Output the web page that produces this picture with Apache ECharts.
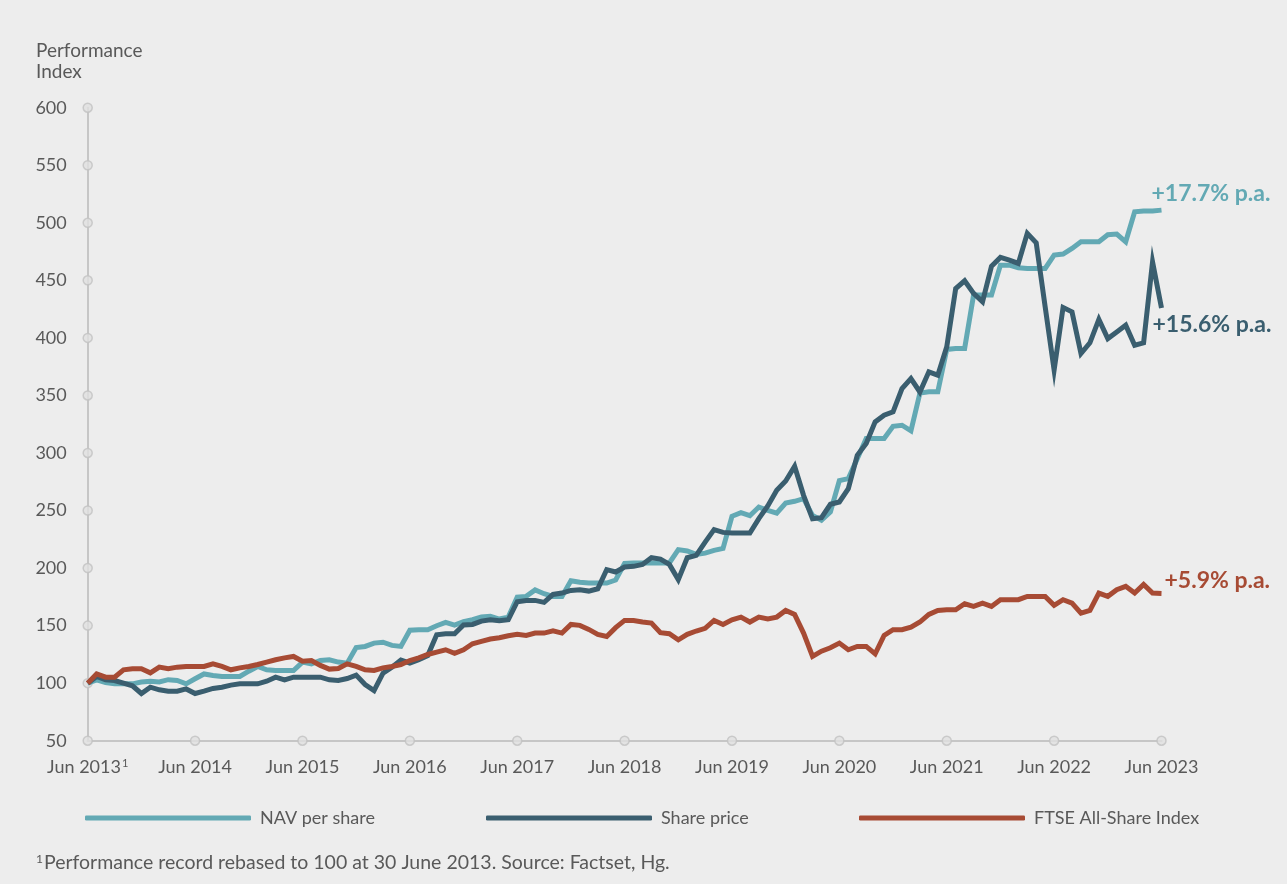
<!DOCTYPE html>
<html>
<head>
<meta charset="utf-8">
<title>Performance Index</title>
<script src="https://cdn.jsdelivr.net/npm/echarts@6/dist/echarts.min.js"></script>
<style>
  html, body { margin: 0; padding: 0; background: #EDEDED; }
  #chart { width: 1287px; height: 884px; }
</style>
</head>
<body>
<div id="chart"></div>
<script>
// Monthly index values, rebased to 100 at 30 June 2013 (Jun 2013 .. Jun 2023)
const navPerShare = [
  100, 102.9, 100.6, 99.4, 99.4, 99.4, 101, 101.7, 101, 103, 102.3, 99.4,
  103.8, 108, 106.7, 105.8, 105.8, 105.8, 110.4, 114.5, 111.6, 111, 111, 111,
  118.3, 116.8, 119.7, 120.3, 118.3, 117.4, 131, 131.9, 134.8, 135.6, 132.8, 131.9,
  146, 146.4, 146.4, 149.9, 152.8, 150.4, 153.5, 155.1, 157.4, 158, 155.7, 157.4,
  174.8, 175.4, 181, 177.7, 175.4, 175.4, 189, 187.6, 187, 187, 187, 189.6,
  204, 204.4, 204.4, 204.4, 204.4, 204.4, 216, 214.8, 211.9, 213, 215.4, 217.1,
  245, 248.1, 245.5, 253, 250.2, 247.8, 256.5, 258, 260.3, 245.8, 241.5, 248.7,
  276, 277.7, 295, 312.5, 312.5, 312.5, 323.2, 324.1, 319.2, 352, 353.1, 353.1,
  390, 390.8, 390.8, 437.2, 437.2, 437.2, 463.2, 463.2, 461, 460.3, 460.3, 460.3,
  471.9, 472.8, 477.7, 483.5, 483.5, 483.5, 489.6, 490.2, 483.5, 509.6, 510.2, 510.2,
  511
];
const sharePrice = [
  100, 105.8, 102.9, 102.3, 100, 97.7, 91, 96.5, 94.2, 93, 93, 95,
  91, 93, 95.4, 96.5, 98.3, 99.4, 99.4, 99.4, 101.7, 105.2, 102.9, 105.2,
  105.2, 105.2, 105.2, 102.9, 102.3, 104, 107, 98.8, 93.6, 108.7, 113.9, 120,
  117.4, 120.3, 124, 142, 142.9, 142.9, 150.5, 151, 153.9, 155.1, 154.2, 155.1,
  170.8, 171.9, 171.9, 170.2, 177.1, 178.3, 180.6, 181.2, 180, 182, 198.6, 196.6,
  200.9, 201.5, 203.2, 209, 207.8, 203.2, 190, 209, 211, 222.6, 233.4, 231,
  230.5, 230.5, 230.5, 243, 254, 267.6, 275.7, 288.4, 263.2, 242.9, 243.8, 255.4,
  257.4, 269, 298, 308.2, 327, 332.8, 335.7, 356, 364.7, 353, 370.5, 367.6,
  392.2, 442.9, 449.6, 438.6, 431.4, 462.3, 469.9, 467.6, 464.7, 490.8, 482.6, 427,
  372, 426.4, 422.6, 386.4, 395.7, 416, 399.4, 405.2, 411, 393.6, 395.7, 466,
  426
];
const ftseAllShare = [
  100, 108.1, 105.2, 105.2, 111.6, 112.5, 112.5, 109, 113.9, 112.5, 113.9, 114.5,
  114.5, 114.5, 116.8, 114.5, 111.6, 113.3, 114.5, 116.2, 118.3, 120.3, 122, 123.2,
  119.1, 119.7, 115.4, 112.2, 112.8, 116.8, 114.5, 111.6, 111, 113.3, 114.5, 116.2,
  119.7, 122, 124.9, 127, 129, 126, 129, 134.2, 136.3, 138.3, 139.5, 141.2,
  142.4, 141.5, 143.5, 143.5, 145.5, 143.5, 151, 150.2, 146.7, 142.4, 140.6, 148.2,
  154.5, 154.5, 153.1, 152.2, 143.8, 142.9, 137.7, 142.4, 145.3, 147.6, 154.5, 151,
  155.1, 157.4, 153.1, 157.4, 155.7, 157.4, 163.2, 159.7, 143.5, 123.2, 127.8, 130.7,
  134.8, 129, 131.9, 131.9, 125.5, 141.5, 146.4, 146.4, 148.7, 153.1, 159.7, 163.2,
  163.8, 163.8, 169, 166.7, 169.6, 166.7, 172.5, 172.5, 172.5, 175.4, 175.4, 175.4,
  167.6, 172.5, 169.6, 160.9, 163.2, 178.3, 175.4, 181.2, 184.1, 178.3, 185.8, 178.3,
  178
];

const seriesNames = ['NAV per share', 'Share price', 'FTSE All-Share Index'];
const endLabels = ['+17.7% p.a.', '+15.6% p.a.', '+5.9% p.a.'];

// Axis ticks
const yTicks = [50, 100, 150, 200, 250, 300, 350, 400, 450, 500, 550, 600];
const xTickLabels = ['Jun 2013', 'Jun 2014', 'Jun 2015', 'Jun 2016', 'Jun 2017', 'Jun 2018',
                     'Jun 2019', 'Jun 2020', 'Jun 2021', 'Jun 2022', 'Jun 2023'];

// Month categories from Jun 2013 to Jun 2023
const monthNames = ['Jan','Feb','Mar','Apr','May','Jun','Jul','Aug','Sep','Oct','Nov','Dec'];
const months = [];
for (let i = 0; i < navPerShare.length; i++) {
  const mi = (5 + i) % 12;
  const yr = 2013 + Math.floor((5 + i) / 12);
  months.push(monthNames[mi] + ' ' + yr);
}

const COLORS = ['#63A9B4', '#3A5E6F', '#A74B34'];
const TEXT = '#595959';
const AXIS = '#C6C6C6';
const FONT = 'Lato';

// Dots drawn along both axes at each tick
const axisDots = [];
yTicks.forEach(v => axisDots.push([months[0], v]));
xTickLabels.forEach(lbl => {
  const idx = months.indexOf(lbl);
  if (idx > 0) axisDots.push([months[idx], yTicks[0]]);
});

function lineSeries(name, data, color, label, offset) {
  return {
    name: name,
    type: 'line',
    data: data,
    showSymbol: false,
    symbol: 'none',
    z: 3,
    lineStyle: { color: color, width: 5, join: 'miter' },
    itemStyle: { color: color },
    emphasis: { disabled: true },
    endLabel: {
      show: true,
      formatter: label,
      position: 'right',
      distance: 0,
      offset: offset,
      color: color,
      fontFamily: FONT,
      fontWeight: 'bold',
      fontSize: 23
    }
  };
}

function legendAt(name, left) {
  return {
    data: [name],
    left: left,
    top: 809,
    padding: 0,
    icon: 'roundRect',
    itemWidth: 166,
    itemHeight: 5,
    selectedMode: false,
    textStyle: { color: TEXT, fontFamily: FONT, fontSize: 18, padding: [0, 0, 0, 4] }
  };
}

const chart = echarts.init(document.getElementById('chart'), null, { renderer: 'canvas' });
chart.setOption({
  backgroundColor: '#EDEDED',
  animation: false,
  title: [
    {
      text: 'Performance\nIndex',
      left: 36,
      top: 40,
      padding: 0,
      textStyle: { color: TEXT, fontFamily: FONT, fontSize: 19, fontWeight: 'normal', lineHeight: 21 }
    },
    {
      text: '{sup|1}Performance record rebased to 100 at 30 June 2013. Source: Factset, Hg.',
      left: 36,
      top: 853,
      padding: 0,
      textStyle: {
        color: TEXT, fontFamily: FONT, fontSize: 19.5, fontWeight: 'normal',
        rich: {
          sup: { fontSize: 12, color: TEXT, fontFamily: FONT, verticalAlign: 'top', padding: [0, 1, 8, 0] }
        }
      }
    }
  ],
  legend: [
    legendAt(seriesNames[0], 85),
    legendAt(seriesNames[1], 486),
    legendAt(seriesNames[2], 859)
  ],
  grid: {
    left: 87.7, right: 125.5, top: 107.7, bottom: 143.3,
    containLabel: false, outerBoundsMode: 'none'
  },
  xAxis: {
    type: 'category',
    data: months,
    boundaryGap: false,
    axisLine: { show: true, lineStyle: { color: AXIS, width: 2 } },
    axisTick: { show: false },
    splitLine: { show: false },
    axisLabel: {
      interval: 11,
      margin: 17,
      color: TEXT,
      fontFamily: FONT,
      fontSize: 18,
      formatter: function (val, idx) {
        return idx === 0 ? val + '{sup|1}' : val;
      },
      rich: {
        sup: { fontSize: 11, color: TEXT, fontFamily: FONT, verticalAlign: 'top', padding: [0, 0, 8, 1] }
      }
    }
  },
  yAxis: {
    type: 'value',
    min: 50,
    max: 600,
    interval: 50,
    axisLine: { show: true, lineStyle: { color: AXIS, width: 2 } },
    axisTick: { show: false },
    splitLine: { show: false },
    axisLabel: { margin: 21, color: TEXT, fontFamily: FONT, fontSize: 18 }
  },
  series: [
    {
      name: 'axisDots',
      type: 'scatter',
      data: axisDots,
      symbol: 'circle',
      symbolSize: 9,
      silent: true,
      z: 1,
      itemStyle: { color: '#E0E0E0', borderColor: '#C2C2C2', borderWidth: 1.5 },
      emphasis: { disabled: true }
    },
    lineSeries(seriesNames[0], navPerShare, COLORS[0], endLabels[0], [-10, -17]),
    lineSeries(seriesNames[1], sharePrice, COLORS[1], endLabels[1], [-9, 17]),
    lineSeries(seriesNames[2], ftseAllShare, COLORS[2], endLabels[2], [3, -13])
  ]
});
</script>
</body>
</html>
